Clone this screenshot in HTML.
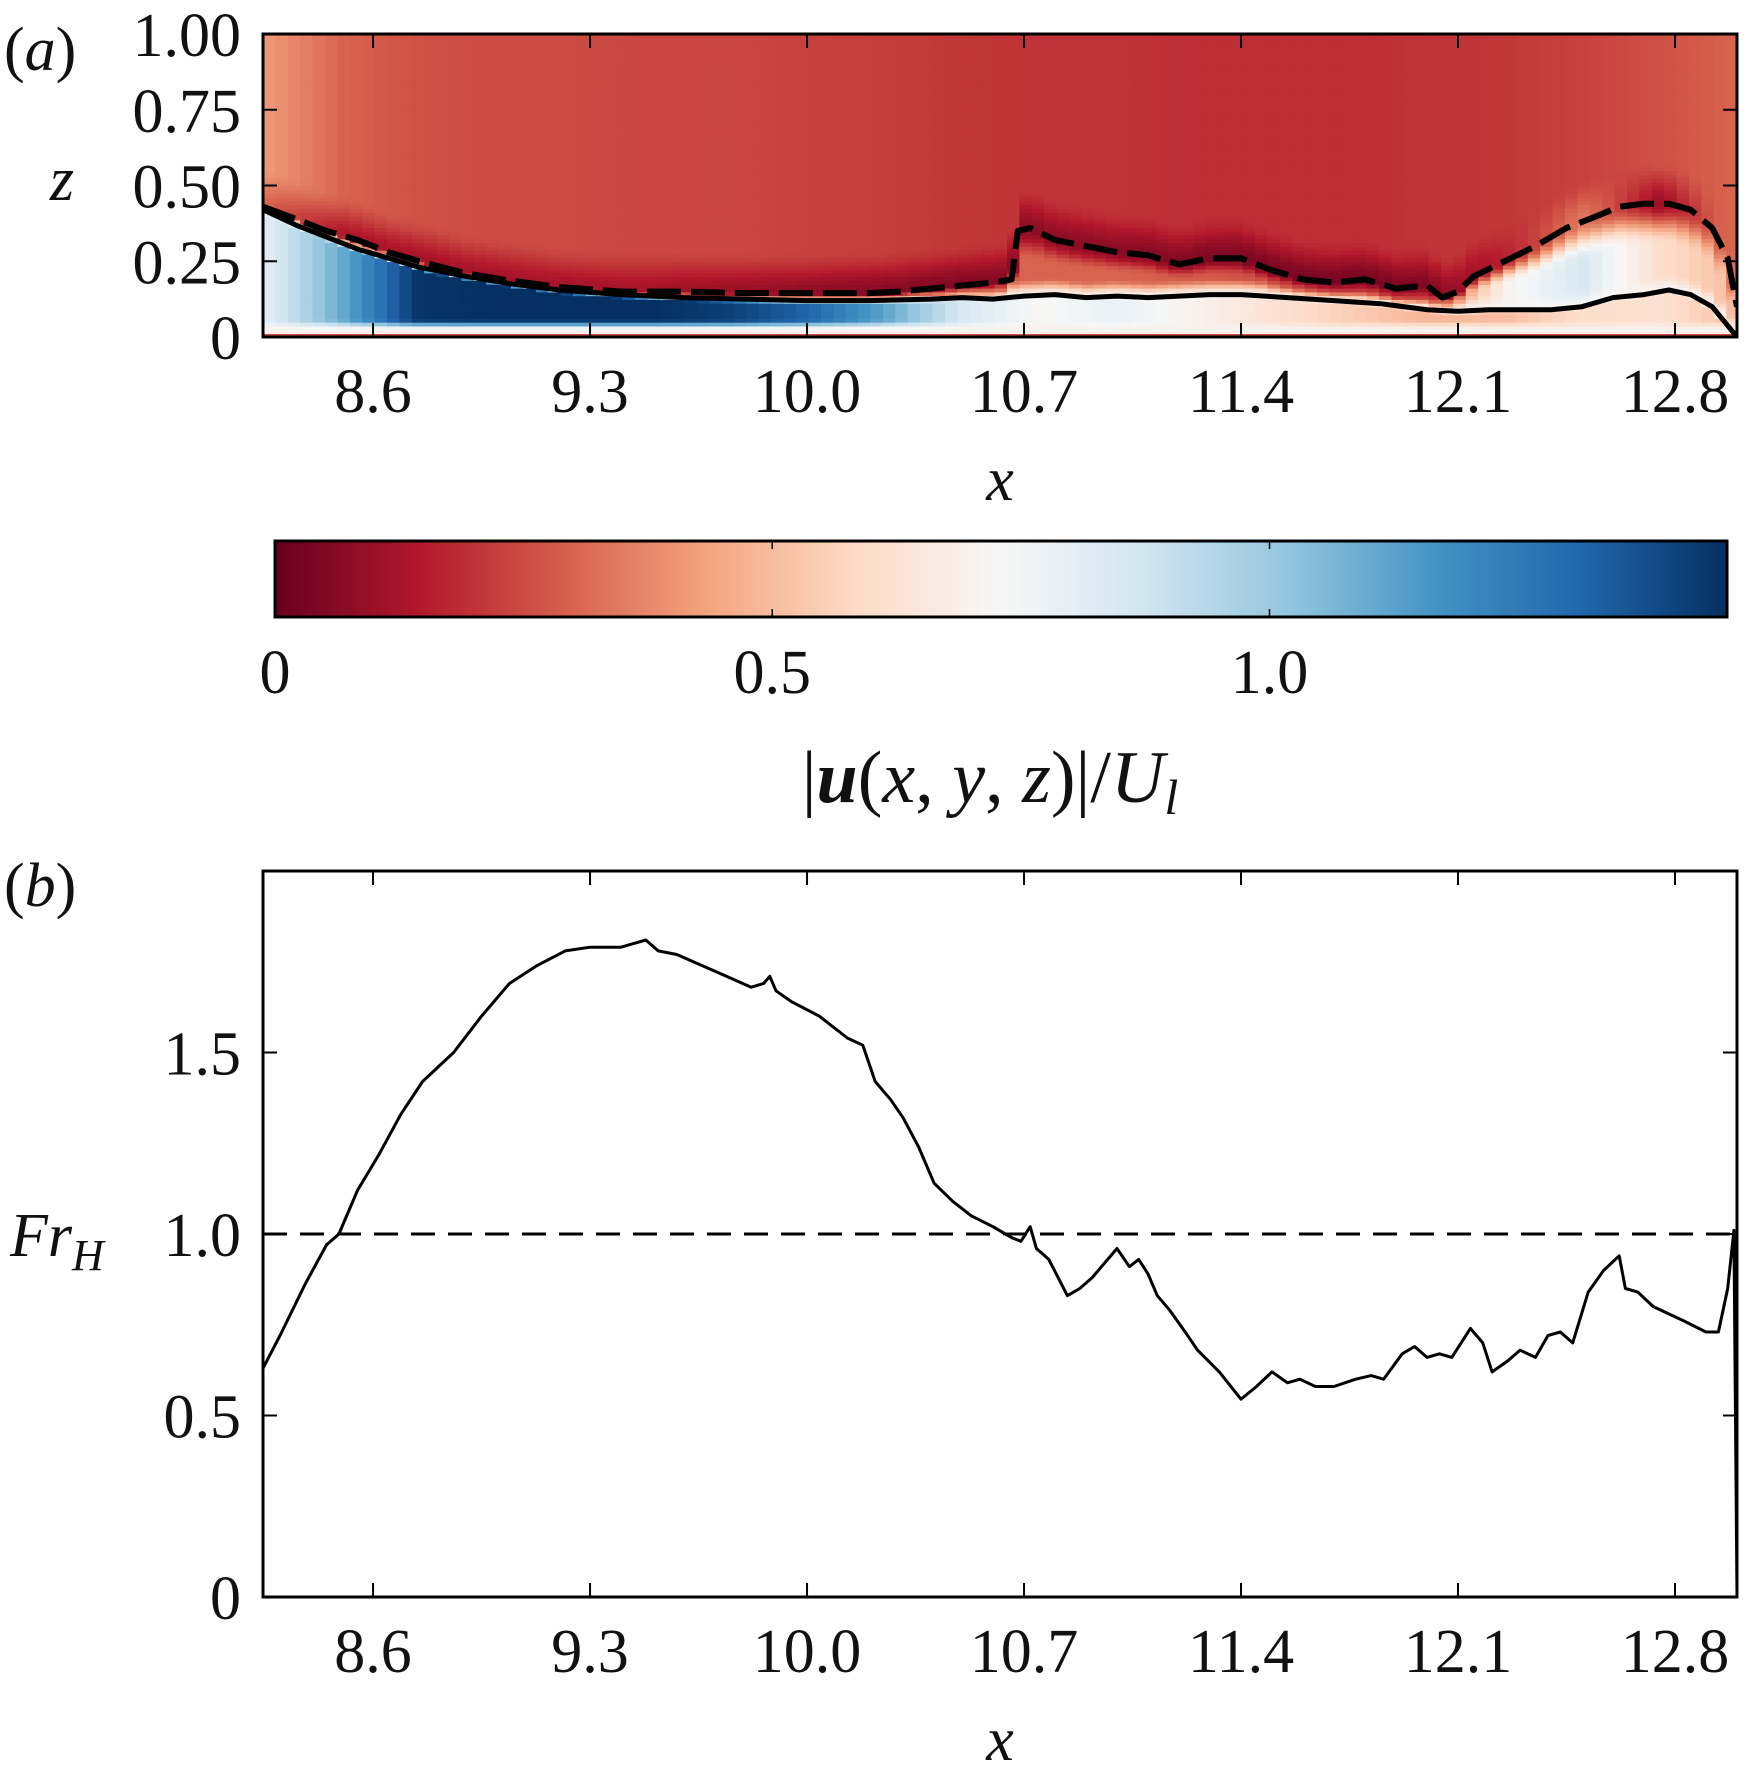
<!DOCTYPE html>
<html><head><meta charset="utf-8"><style>
html,body{margin:0;padding:0;background:#fff;}
svg{display:block;font-family:"Liberation Serif","DejaVu Serif",serif;}
.t{font-size:62px;fill:#111;}
</style></head><body>
<svg id="fig" width="1752" height="1775" viewBox="0 0 1752 1775" xmlns="http://www.w3.org/2000/svg">
<defs>
<clipPath id="clipA"><rect x="263" y="34" width="1474" height="303"/></clipPath>
<linearGradient id="cbgrad" x1="0" x2="1" y1="0" y2="0"></linearGradient>
</defs>
<g id="panelA">
<g id="heat" clip-path="url(#clipA)"></g>
<g id="linesA" clip-path="url(#clipA)"></g>
<rect x="263" y="34" width="1474" height="303" fill="none" stroke="#000" stroke-width="3"/>
<g id="ticksA"></g>
<text class="t" x="4" y="70">(<tspan font-style="italic">a</tspan>)</text>
<text class="t" x="62" y="200" font-style="italic" text-anchor="middle">z</text>
<text class="t" x="1000" y="500" font-style="italic" text-anchor="middle">x</text>
</g>
<g id="cbar">
<rect x="275" y="541" width="1452" height="76" fill="url(#cbgrad)" stroke="#000" stroke-width="3"/>
<g id="cbticks"></g>
<text class="t" x="990" y="802" text-anchor="middle" font-size="74" style="font-size:74px">|<tspan font-weight="bold" font-style="italic">u</tspan>(<tspan font-style="italic">x</tspan>, <tspan font-style="italic">y</tspan>, <tspan font-style="italic">z</tspan>)|/<tspan font-style="italic">U</tspan><tspan font-style="italic" style="font-size:50px" dy="12">l</tspan></text>
</g>
<g id="panelB">
<g id="linesB"></g>
<rect x="263" y="871" width="1474" height="726" fill="none" stroke="#000" stroke-width="3"/>
<g id="ticksB"></g>
<text class="t" x="4" y="906">(<tspan font-style="italic">b</tspan>)</text>
<text class="t" x="10" y="1256" font-style="italic">Fr<tspan font-size="44" dy="14">H</tspan></text>
<text class="t" x="1000" y="1760" font-style="italic" text-anchor="middle">x</text>
</g>
</svg>
<script>
// ---- data ----
const xTicks = [8.6, 9.3, 10.0, 10.7, 11.4, 12.1, 12.8];
const xTickLabels = ["8.6","9.3","10.0","10.7","11.4","12.1","12.8"];
const zTicks = [0, 0.25, 0.5, 0.75, 1.0];
const zTickLabels = ["0","0.25","0.50","0.75","1.00"];
const frTicks = [0, 0.5, 1.0, 1.5];
const frTickLabels = ["0","0.5","1.0","1.5"];
const cbTicks = [0, 0.5, 1.0];
const cbTickLabels = ["0","0.5","1.0"];
// solid interface line (panel a)
const solidX = [8.245,8.35,8.45,8.55,8.65,8.75,8.9,9.05,9.2,9.4,9.6,9.8,10.0,10.2,10.4,10.5,10.6,10.7,10.8,10.9,11.0,11.1,11.2,11.3,11.4,11.55,11.7,11.85,12.0,12.1,12.2,12.3,12.4,12.5,12.6,12.7,12.78,12.85,12.92,13.0];
const solidZ = [0.42,0.37,0.33,0.29,0.26,0.23,0.20,0.175,0.155,0.14,0.13,0.125,0.12,0.12,0.125,0.13,0.125,0.135,0.14,0.13,0.135,0.13,0.135,0.14,0.14,0.13,0.12,0.11,0.09,0.085,0.09,0.09,0.09,0.10,0.13,0.14,0.155,0.14,0.10,0.0];
// dashed interface line (panel a)
const dashX = [8.245,8.35,8.45,8.55,8.65,8.75,8.9,9.05,9.2,9.4,9.6,9.8,10.0,10.2,10.3,10.4,10.5,10.6,10.66,10.68,10.72,10.8,10.9,11.0,11.1,11.2,11.3,11.4,11.5,11.6,11.7,11.8,11.9,12.0,12.05,12.1,12.15,12.25,12.35,12.45,12.55,12.62,12.7,12.78,12.85,12.92,12.97,13.0];
const dashZ = [0.43,0.39,0.35,0.32,0.28,0.25,0.21,0.185,0.165,0.15,0.15,0.145,0.145,0.145,0.15,0.16,0.17,0.18,0.19,0.35,0.36,0.32,0.30,0.28,0.27,0.24,0.26,0.26,0.22,0.19,0.18,0.19,0.16,0.17,0.13,0.15,0.20,0.25,0.30,0.36,0.40,0.43,0.44,0.44,0.42,0.36,0.26,0.10];
// field parameters at nodes (speed values)
const fieldX = [8.245,8.5,8.75,9.0,9.25,9.5,9.75,10.0,10.25,10.5,10.75,11.0,11.25,11.5,11.75,12.0,12.25,12.5,12.75,13.0];
const coreSpeed = [0.8,1.1,1.45,1.46,1.46,1.46,1.42,1.32,1.12,0.85,0.72,0.78,0.7,0.62,0.55,0.48,0.5,0.6,0.62,0.5];
const midSpeed = [0.5,0.4,0.3,0.3,0.3,0.3,0.3,0.3,0.3,0.3,0.3,0.3,0.28,0.25,0.2,0.2,0.7,0.85,0.6,0.5];
const bandSpeed = [0.3,0.14,0.12,0.12,0.12,0.12,0.1,0.08,0.06,0.05,0.08,0.07,0.05,0.04,0.03,0.05,0.16,0.35,0.1,0.35];
const upperSpeed = [0.42,0.3,0.26,0.25,0.25,0.24,0.24,0.23,0.22,0.21,0.2,0.2,0.19,0.19,0.19,0.2,0.21,0.23,0.26,0.3];
// Froude number (panel b)
const frX = [8.245,8.3,8.38,8.45,8.49,8.55,8.62,8.69,8.76,8.86,8.95,9.04,9.13,9.22,9.3,9.4,9.48,9.52,9.58,9.66,9.74,9.82,9.86,9.88,9.9,9.95,10.04,10.13,10.18,10.22,10.27,10.31,10.36,10.41,10.47,10.53,10.6,10.66,10.69,10.72,10.74,10.78,10.84,10.88,10.92,10.96,11.0,11.04,11.07,11.1,11.13,11.17,11.22,11.26,11.33,11.4,11.45,11.5,11.55,11.59,11.64,11.7,11.77,11.82,11.86,11.92,11.96,12.0,12.04,12.08,12.14,12.18,12.21,12.26,12.3,12.35,12.39,12.43,12.47,12.52,12.57,12.62,12.64,12.68,12.73,12.78,12.83,12.9,12.94,12.97,12.99,13.0];
const frVal = [0.63,0.72,0.86,0.97,1.0,1.12,1.22,1.33,1.42,1.5,1.6,1.69,1.74,1.78,1.79,1.79,1.81,1.78,1.77,1.74,1.71,1.68,1.69,1.71,1.67,1.64,1.6,1.54,1.52,1.42,1.37,1.32,1.24,1.14,1.09,1.05,1.02,0.99,0.98,1.02,0.96,0.93,0.83,0.85,0.88,0.92,0.96,0.91,0.93,0.89,0.83,0.79,0.73,0.68,0.62,0.545,0.58,0.62,0.59,0.6,0.58,0.58,0.6,0.61,0.6,0.67,0.69,0.66,0.67,0.66,0.74,0.7,0.62,0.65,0.68,0.66,0.72,0.73,0.7,0.84,0.9,0.94,0.85,0.84,0.8,0.78,0.76,0.73,0.73,0.85,1.01,0.0];

// ---- axes ----
const X0=263, X1=1737, XMIN=8.245, XMAX=13.0;
const sx = x => X0 + (x-XMIN)/(XMAX-XMIN)*(X1-X0);
const sz = z => 337 - z*303;
const sy = v => 1597 - v*363;
const CBMAX = 1.46;
const sc = v => 275 + v/CBMAX*1452;
const NS="http://www.w3.org/2000/svg";
function mk(tag, attrs, parent){const e=document.createElementNS(NS,tag);for(const k in attrs)e.setAttribute(k,attrs[k]);parent.appendChild(e);return e;}

const RDBU=["#67001f","#b2182b","#d6604d","#f4a582","#fddbc7","#f7f7f7","#d1e5f0","#92c5de","#4393c3","#2166ac","#053061"];
function hex(c){return [parseInt(c.slice(1,3),16),parseInt(c.slice(3,5),16),parseInt(c.slice(5,7),16)];}
function cmap(v){let t=Math.max(0,Math.min(1,v/CBMAX))*(RDBU.length-1);let i=Math.min(Math.floor(t),RDBU.length-2);let f=t-i;const a=hex(RDBU[i]),b=hex(RDBU[i+1]);return "rgb("+a.map((q,k)=>Math.round(q+(b[k]-q)*f)).join(",")+")";}
function interp(xs,ys,x){if(x<=xs[0])return ys[0];for(let i=1;i<xs.length;i++){if(x<=xs[i]){const f=(x-xs[i-1])/(xs[i]-xs[i-1]);return ys[i-1]+(ys[i]-ys[i-1])*f;}}return ys[ys.length-1];}
function ss(a,b,t){if(b<=a)return t>=b?1:0;const u=Math.max(0,Math.min(1,(t-a)/(b-a)));return u*u*(3-2*u);}

// colorbar gradient
const grad=document.getElementById('cbgrad');
RDBU.forEach((c,i)=>{mk('stop',{offset:(i/(RDBU.length-1)*100)+'%','stop-color':c},grad);});

// heatmap
const heat=document.getElementById('heat');
const DX=0.04, DZ=0.0125;
for(let x=XMIN; x<XMAX; x+=DX){
  const xc=x+DX/2;
  const hs=interp(solidX,solidZ,xc), hd=Math.max(interp(dashX,dashZ,xc),hs+0.01);
  const core=interp(fieldX,coreSpeed,xc), mid=interp(fieldX,midSpeed,xc), band=interp(fieldX,bandSpeed,xc), up=interp(fieldX,upperSpeed,xc);
  for(let z=0; z<1.0; z+=DZ){
    const zc=z+DZ/2;
    let lower = 0.12 + (0.7-0.12)*ss(0.0,0.02,zc);
    lower = lower + (core-lower)*ss(0.025,0.06,zc);
    const upperPart = band + (up-band)*ss(hd,hd+0.14,zc);
    const gap = hd-hs;
    let above = 0.72 + (mid-0.72)*ss(hs, hs+Math.min(0.06,gap*0.6), zc);
    above = above + (band-above)*ss(hs+gap*0.55, hd, zc);
    above = zc>hd ? upperPart : above;
    const v = lower + (above-lower)*ss(hs-0.012,hs+0.005,zc);
    const r=mk('rect',{x:sx(x).toFixed(1),y:sz(z+DZ).toFixed(1),width:(sx(x+DX)-sx(x)+0.8).toFixed(1),height:(sz(z)-sz(z+DZ)+0.8).toFixed(1),fill:cmap(v)},heat);
    
    
  }
}

// lines panel a
const la=document.getElementById('linesA');
const sPath=mk('path',{d:solidX.map((x,i)=>(i?'L':'M')+sx(x).toFixed(1)+','+sz(solidZ[i]).toFixed(1)).join(''),fill:'none',stroke:'#000','stroke-width':5,'stroke-linejoin':'round'},la);


const dPath=mk('path',{d:dashX.map((x,i)=>(i?'L':'M')+sx(x).toFixed(1)+','+sz(dashZ[i]).toFixed(1)).join(''),fill:'none',stroke:'#000','stroke-width':6,'stroke-dasharray':'34,10','stroke-linejoin':'round'},la);



// ticks
function xticks(g, yb, yt, ly){
  xTicks.forEach((t,i)=>{
    const X=sx(t);
    const a=mk('line',{x1:X,x2:X,y1:yb,y2:yb-14,stroke:'#000','stroke-width':2},g);
    
    
    const b=mk('line',{x1:X,x2:X,y1:yt,y2:yt+14,stroke:'#000','stroke-width':2},g);
    
    
    const tx=mk('text',{x:X,y:ly,'text-anchor':'middle',class:'t'},g);
    tx.textContent=xTickLabels[i];
    
    
  });
}
function yticks(g, vals, labels, sc2){
  vals.forEach((t,i)=>{
    const Y=sc2(t);
    const a=mk('line',{x1:X0,x2:X0+14,y1:Y,y2:Y,stroke:'#000','stroke-width':2},g);
    
    
    const b=mk('line',{x1:X1,x2:X1-14,y1:Y,y2:Y,stroke:'#000','stroke-width':2},g);
    
    
    const tx=mk('text',{x:X0-22,y:Y+22,'text-anchor':'end',class:'t'},g);
    tx.textContent=labels[i];
    
    
  });
}
const ta=document.getElementById('ticksA');
xticks(ta,337,34,412);
yticks(ta,zTicks,zTickLabels,sz);
const tb=document.getElementById('ticksB');
xticks(tb,1597,871,1672);
yticks(tb,frTicks,frTickLabels,sy);

// colorbar ticks
const cbt=document.getElementById('cbticks');
cbTicks.forEach((t,i)=>{
  const X=sc(t);
  if(t>0){
    const a=mk('line',{x1:X,x2:X,y1:617,y2:609,stroke:'#000','stroke-width':1.5},cbt);
    
    
    const b=mk('line',{x1:X,x2:X,y1:541,y2:549,stroke:'#000','stroke-width':1.5},cbt);
    
    
  }
  const tx=mk('text',{x:X,y:693,'text-anchor':'middle',class:'t'},cbt);
  tx.textContent=cbTickLabels[i];
  
  
});

// panel b lines
const lb=document.getElementById('linesB');
const ref=mk('line',{x1:X0,x2:X1,y1:sy(1.0),y2:sy(1.0),stroke:'#000','stroke-width':3,'stroke-dasharray':'24,13'},lb);


const fr=mk('path',{d:frX.map((x,i)=>(i?'L':'M')+sx(x).toFixed(1)+','+sy(frVal[i]).toFixed(1)).join(''),fill:'none',stroke:'#000','stroke-width':3,'stroke-linejoin':'round'},lb);


</script>
</body></html>
